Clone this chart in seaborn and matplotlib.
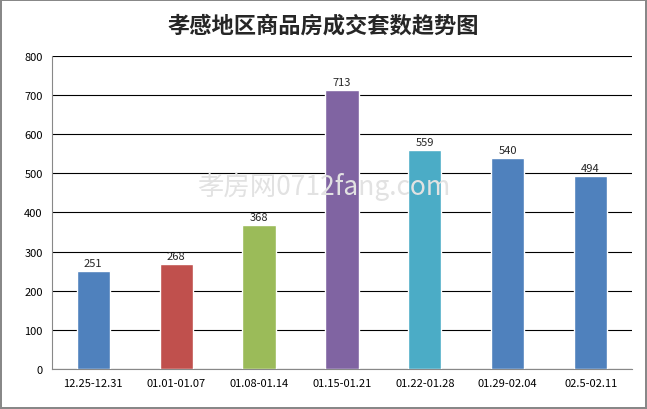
import matplotlib
matplotlib.use('Agg')
import matplotlib.pyplot as plt
import seaborn as sns
import pandas as pd

weeks = ['12.25-12.31', '01.01-01.07', '01.08-01.14', '01.15-01.21',
         '01.22-01.28', '01.29-02.04', '02.5-02.11']
counts = [251, 268, 368, 713, 559, 540, 494]
colors = ['#4F81BD', '#C0504D', '#9BBB59', '#8064A2', '#4BACC6', '#4F81BD', '#4F81BD']

sns.set_style('white')
plt.rcParams['font.family'] = ['Noto Sans CJK SC', 'DejaVu Sans']

df = pd.DataFrame({'week': weeks, 'count': counts})
fig = plt.figure(figsize=(6.47, 4.10), dpi=100)
fig.patch.set_edgecolor('#888888')
fig.patch.set_linewidth(1.5)
ax = fig.add_axes([0.080, 0.098, 0.897, 0.763])
sns.barplot(data=df, x='week', y='count', hue='week', palette=colors,
            legend=False, width=0.4, saturation=1, ax=ax, zorder=3)
ax.set_ylim(0, 800)
ax.set_yticks(range(0, 801, 100))
ax.grid(axis='y', color='black', linewidth=0.8, zorder=0)
ax.set_axisbelow(True)
for s in ['top', 'right']:
    ax.spines[s].set_visible(False)
for s in ['left', 'bottom']:
    ax.spines[s].set_color('#888888')
ax.set_xlabel('')
ax.set_ylabel('')
ax.tick_params(axis='both', labelsize=8, length=3, colors='black')
ax.tick_params(axis='x', direction='out')
for i, v in enumerate(counts):
    ax.text(i, v + 8, str(v), ha='center', va='bottom', fontsize=8)
fig.text(0.5, 0.545, '孝房网0712fang.com', ha='center', va='center',
         fontsize=19, color='#e2e2e2', zorder=0)
fig.suptitle('孝感地区商品房成交套数趋势图', fontsize=16, fontweight='bold', y=0.965)
fig.savefig('out.png', dpi=100)
